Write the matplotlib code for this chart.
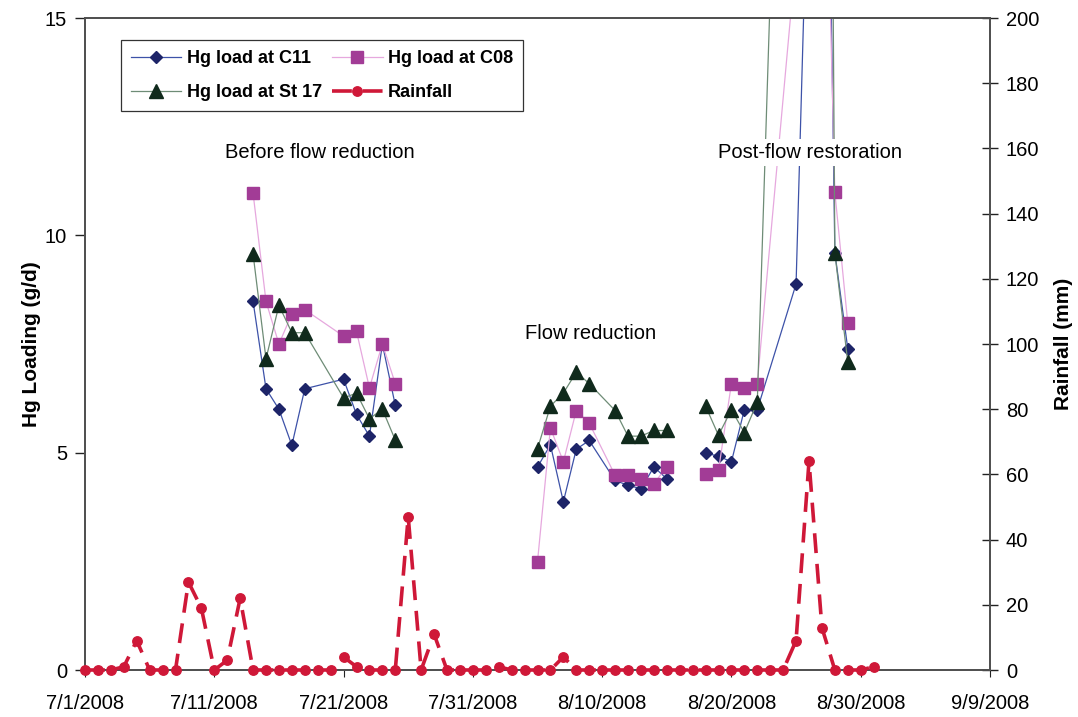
import matplotlib
matplotlib.use('Agg')
import matplotlib.pyplot as plt
import matplotlib.dates as mdates
from matplotlib.ticker import FuncFormatter
import numpy as np
import pandas as pd

plt.rcParams['font.family'] = ['Liberation Sans', 'DejaVu Sans']

# ---------------- data ----------------
# None = no sample (line break between sampling periods)
c11_dates = ['2008-07-14', '2008-07-15', '2008-07-16', '2008-07-17', '2008-07-18',
             '2008-07-21', '2008-07-22', '2008-07-23', '2008-07-24', '2008-07-25',
             '2008-07-30',
             '2008-08-05', '2008-08-06', '2008-08-07', '2008-08-08', '2008-08-09',
             '2008-08-11', '2008-08-12', '2008-08-13', '2008-08-14', '2008-08-15',
             '2008-08-16',
             '2008-08-18', '2008-08-19', '2008-08-20', '2008-08-21', '2008-08-22',
             '2008-08-25', '2008-08-27', '2008-08-28', '2008-08-29']
c11_vals = [8.48, 6.47, 6.00, 5.17, 6.47,
            6.69, 5.88, 5.38, 7.50, 6.09,
            None,
            4.67, 5.18, 3.87, 5.08, 5.28,
            4.36, 4.25, 4.17, 4.67, 4.40,
            None,
            4.99, 4.92, 4.79, 5.99, 5.99,
            8.88, 30.0, 9.60, 7.39]

c08_dates = ['2008-07-14', '2008-07-15', '2008-07-16', '2008-07-17', '2008-07-18',
             '2008-07-21', '2008-07-22', '2008-07-23', '2008-07-24', '2008-07-25',
             '2008-07-30',
             '2008-08-05', '2008-08-06', '2008-08-07', '2008-08-08', '2008-08-09',
             '2008-08-11', '2008-08-12', '2008-08-13', '2008-08-14', '2008-08-15',
             '2008-08-16',
             '2008-08-18', '2008-08-19', '2008-08-20', '2008-08-21', '2008-08-22',
             '2008-08-27', '2008-08-28', '2008-08-29']
c08_vals = [10.97, 8.48, 7.50, 8.19, 8.29,
            7.68, 7.79, 6.49, 7.50, 6.59,
            None,
            2.49, 5.57, 4.79, 5.97, 5.68,
            4.48, 4.48, 4.40, 4.29, 4.67,
            None,
            4.50, 4.59, 6.59, 6.49, 6.59,
            23.0, 10.99, 7.98]

st17_dates = c08_dates
st17_vals = [9.57, 7.16, 8.39, 7.76, 7.76,
             6.26, 6.37, 5.78, 6.00, 5.29,
             None,
             5.09, 6.07, 6.37, 6.85, 6.59,
             5.97, 5.38, 5.38, 5.51, 5.51,
             None,
             6.07, 5.40, 5.99, 5.46, 6.16,
             53.0, 9.60, 7.08]

rain_start = '2008-07-01'
rain_mm = [0, 0, 0, 1, 9, 0, 0, 0, 27, 19,
           0, 3, 22, 0, 0, 0, 0, 0, 0, 0,
           4, 1, 0, 0, 0, 47, 0, 11, 0, 0,
           0, 0, 1, 0, 0, 0, 0, 4, 0, 0,
           0, 0, 0, 0, 0, 0, 0, 0, 0, 0,
           0, 0, 0, 0, 0, 9, 64, 13, 0, 0,
           0, 1]

x_tick_dates = ['2008-07-01', '2008-07-11', '2008-07-21', '2008-07-31',
                '2008-08-10', '2008-08-20', '2008-08-30', '2008-09-09']
left_ticks = [0, 5, 10, 15]
right_ticks = [0, 20, 40, 60, 80, 100, 120, 140, 160, 180, 200]

labels = ['Hg load at C11', 'Hg load at C08', 'Hg load at St 17', 'Rainfall']

# ---------------- figure ----------------
W, H = 1078, 717
fig = plt.figure(figsize=(W / 100, H / 100), dpi=100)
L, R, T, B = 85, 990, 18, 670
ax = fig.add_axes([L / W, 1 - B / H, (R - L) / W, (B - T) / H])
ax2 = ax.twinx()


def series(dates, vals):
    x = pd.to_datetime(dates)
    y = np.array([np.nan if v is None else v for v in vals], float)
    return x, y


x, y = series(c11_dates, c11_vals)
h_c11, = ax.plot(x, y, color='#3d52a8', lw=0.9, marker='D', ms=6,
                 mfc='#1d2468', mec='#1d2468', zorder=2)
x, y = series(c08_dates, c08_vals)
h_c08, = ax.plot(x, y, color='#e6a8de', lw=0.9, marker='s', ms=8.3,
                 mfc='#a23c96', mec='#a23c96', zorder=2)
x, y = series(st17_dates, st17_vals)
h_st, = ax.plot(x, y, color='#6e8c76', lw=0.9, marker='^', ms=9.5,
                mfc='#102a1c', mec='#102a1c', zorder=2)

rx = pd.date_range(rain_start, periods=len(rain_mm), freq='D')
h_rain, = ax2.plot(rx, rain_mm, color='#cf1838', lw=2.6, dashes=(5.5, 3),
                   marker='o', ms=6.8, mfc='#cf1838', mec='#cf1838',
                   clip_on=False, zorder=3)

# axes limits & ticks
ax.set_xlim(pd.Timestamp('2008-07-01'), pd.Timestamp('2008-09-09'))
ax.set_ylim(0, 15)
ax2.set_ylim(0, 200)
ax.set_xticks(pd.to_datetime(x_tick_dates))


def fmt(v, p):
    d = mdates.num2date(v)
    return f"{d.month}/{d.day}/{d.year}"


ax.xaxis.set_major_formatter(FuncFormatter(fmt))
ax.set_yticks(left_ticks)
ax2.set_yticks(right_ticks)

ax.tick_params(axis='y', direction='out', length=7, width=1, pad=6, labelsize=14.5, colors='#222222')
ax.tick_params(axis='x', direction='out', length=5, pad=12, labelsize=14.5, colors='#222222')
ax2.tick_params(axis='y', direction='inout', length=11, width=1, pad=6, labelsize=14.5, colors='#222222')
for a in (ax, ax2):
    for s in a.spines.values():
        s.set_color('#505050')
        s.set_linewidth(1.3)
    for lab in a.get_xticklabels() + a.get_yticklabels():
        lab.set_color('black')

ax.set_ylabel('Hg Loading (g/d)', fontsize=15, fontweight='bold')
ax.yaxis.set_label_coords((41 - L) / (R - L), 0.5)
ax2.set_ylabel('Rainfall (mm)', fontsize=15, fontweight='bold')
ax2.yaxis.set_label_coords((1054 - L) / (R - L), 0.5)

# annotations
def dn(s, frac=0.0):
    return mdates.date2num(pd.Timestamp(s)) + frac

ax.text(dn('2008-07-19', 0.2), 11.9, 'Before flow reduction', ha='center', va='center',
        fontsize=14.5, zorder=5)
ax.text(dn('2008-08-09', 0.1), 7.75, 'Flow reduction', ha='center', va='center',
        fontsize=14.5, zorder=5)
ax.text(dn('2008-08-26', 0.1), 11.9, 'Post-flow restoration', ha='center', va='center',
        fontsize=14.5, zorder=5,
        bbox=dict(facecolor='white', edgecolor='none', pad=3))

leg = ax2.legend([h_c11, h_st, h_c08, h_rain],
                 [labels[0], labels[2], labels[1], labels[3]],
                 ncol=2, loc='upper left',
                 bbox_to_anchor=((121 - L) / (R - L), (B - 40) / (B - T)),
                 prop={'weight': 'bold', 'size': 13}, frameon=True, fancybox=False,
                 edgecolor='#333333', framealpha=1, borderpad=0.55, labelspacing=0.95,
                 handlelength=2.8, handletextpad=0.3, columnspacing=0.55, borderaxespad=0)
leg.get_frame().set_linewidth(0.9)
leg.set_zorder(10)

fig.savefig('out.png', dpi=100, facecolor='white')
